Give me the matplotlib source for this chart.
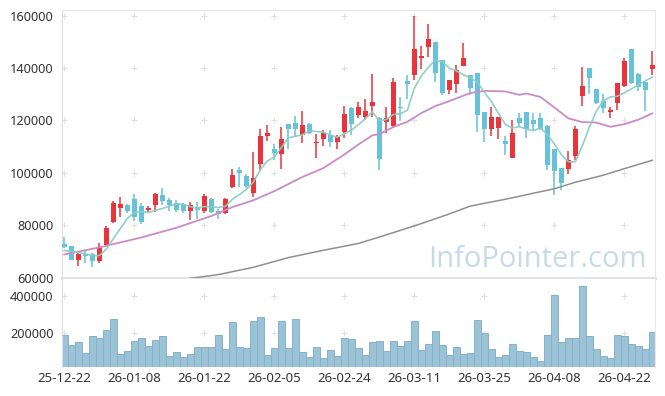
import numpy as np
import matplotlib
matplotlib.use('Agg')
import matplotlib.pyplot as plt

# daily candles (red = up, blue = down)
opens = [72640, 71870, 66630, 68900, 69080, 66250, 72260, 81070, 86690, 87580,
         90140, 87190, 85660, 87840, 91410, 89750, 88610, 87960, 85390, 86820,
         85390, 90140, 85400, 84630, 94580, 100980, 98680, 92290, 103550, 114130,
         108910, 107230, 118600, 118860, 114390, 118600, 111300, 112800, 114260, 111820,
         115530, 124870, 122050, 121170, 125500, 120770, 119500, 117700, 125100, 135100,
         137370, 144000, 147970, 150140, 143100, 131630, 133900, 140930, 137250, 138000,
         123300, 116570, 117180, 112100, 105840, 120770, 123100, 120000, 120770, 117820,
         109050, 102000, 101370, 106350, 129440, 140170, 131890, 127400, 123080, 126530,
         133030, 147330, 137630, 134540, 139660]
highs = [75430, 72000, 69690, 70000, 69300, 73140, 79680, 89280, 90760, 88200,
         92060, 88400, 87200, 92440, 94360, 90500, 89500, 88400, 88900, 88900,
         91800, 90500, 86000, 90200, 101640, 102290, 99700, 107990, 116570, 118100,
         111000, 117560, 118600, 121780, 123810, 119000, 114770, 116300, 116300, 114400,
         125470, 125250, 127140, 128290, 137750, 121400, 125000, 136100, 128800, 137400,
         160000, 148470, 156930, 150140, 143100, 135460, 141200, 149500, 137250, 138000,
         123300, 125000, 121400, 114000, 120130, 122950, 123100, 122700, 122700, 118200,
         109050, 102000, 108270, 117820, 140300, 140170, 131890, 129970, 125250, 134420,
         143900, 147330, 138000, 134540, 146700]
lows = [71100, 66600, 64480, 65600, 63940, 65480, 72000, 80870, 83100, 84500,
        81570, 80600, 84500, 84900, 87580, 85600, 85000, 84600, 81830, 82470,
        84500, 84500, 82500, 84300, 94360, 94580, 94360, 90760, 100710, 112290,
        105000, 101640, 108910, 113740, 111440, 114900, 105840, 110200, 109800, 108910,
        113230, 114390, 120800, 120130, 121400, 101250, 115300, 117000, 119900, 128100,
        135460, 139660, 144400, 134810, 129700, 130030, 130360, 140930, 129700, 115700,
        111820, 114000, 113100, 106730, 105840, 117560, 113360, 116300, 116300, 101000,
        91400, 93300, 99720, 105070, 125630, 129970, 126400, 122700, 120770, 124000,
        132800, 133800, 131380, 123600, 137370]
closes = [71600, 66630, 68810, 68400, 66250, 71760, 79040, 88610, 87960, 85390,
          83100, 81180, 86690, 91790, 89110, 87580, 85660, 85390, 87580, 85790,
          91020, 85020, 84300, 89870, 99070, 99950, 94970, 98190, 114000, 115400,
          107610, 113110, 116800, 116830, 118230, 115400, 111700, 115150, 111820, 113740,
          122300, 118600, 125000, 123680, 126900, 105200, 121000, 134700, 124800, 133800,
          147330, 144600, 151160, 138260, 130570, 135390, 139300, 143770, 132500, 122050,
          116570, 121400, 121400, 111200, 115040, 119100, 116570, 118600, 116570, 102900,
          100710, 96120, 104820, 116570, 133150, 136330, 126760, 124850, 123960, 134420,
          142730, 134200, 132880, 131630, 141200]
volumes = [191000, 137800, 153700, 95200, 184000, 175000, 217500, 276000, 89900, 105800,
           159000, 175000, 132400, 164400, 184000, 79300, 100500, 73900, 89900, 127100,
           127100, 127100, 191000, 116500, 260000, 127100, 121800, 265400, 286700, 84600,
           121800, 265400, 121800, 276000, 100500, 73900, 127100, 68600, 111200, 79300,
           175000, 169700, 121800, 84600, 153700, 159000, 105800, 159000, 132400, 159000,
           265400, 111200, 143100, 212200, 137800, 84600, 127100, 89900, 95200, 270700,
           201600, 116500, 73900, 84600, 143100, 105800, 100500, 73900, 52700, 191000,
           403700, 153700, 175000, 175000, 451600, 185600, 116500, 79300, 68600, 191000,
           185600, 143100, 132400, 116500, 206900]

# moving averages (the long ones start before the window)
ma5_head = [70300, 70000, 69600, 69000]
ma20_idx = [0, 5, 11, 16, 21, 24, 27, 30, 34, 37, 40, 42, 44, 45, 47, 49, 51, 53, 55,
            58, 60, 63, 65, 66, 68, 70, 72, 74, 76, 78, 80, 82, 84]
ma20_val = [68800, 71500, 75300, 79000, 83500, 86900, 89500, 93000, 98400, 101800,
            107000, 110800, 114300, 114800, 117500, 119500, 122800, 125500, 127400,
            130500, 131300, 131100, 129800, 130300, 129000, 125000, 120800, 119400,
            119200, 117600, 118600, 120300, 122700]
ma60_idx = [18, 22, 27, 32, 37, 42, 46, 51, 55, 58, 63, 67, 70, 73, 77, 80, 84]
ma60_val = [59700, 61100, 63900, 67600, 70400, 73000, 76300, 80600, 84300, 87300,
            89900, 92200, 93900, 96400, 99100, 101600, 104800]

date_pos = [0, 10, 20, 30, 40, 50, 60, 70, 80]
date_labels = ['25-12-22', '26-01-08', '26-01-22', '26-02-05', '26-02-24',
               '26-03-11', '26-03-25', '26-04-08', '26-04-22']
price_ticks = [60000, 80000, 100000, 120000, 140000, 160000]
vol_ticks = [200000, 400000]

o = np.array(opens); h = np.array(highs); l = np.array(lows); c = np.array(closes)
x = np.arange(len(c))
ma5 = np.concatenate([ma5_head, np.convolve(c, np.ones(5) / 5, 'valid')])

RED = '#ea343b'
BLUE = '#66c1da'
cols = np.where(c >= o, RED, BLUE)

plt.rcParams['font.family'] = ['Noto Sans', 'DejaVu Sans']
fig = plt.figure(figsize=(6.65, 3.96), dpi=100)
ax = fig.add_axes([0.0928, 0.2992, 0.8929, 0.6755])
axv = fig.add_axes([0.0928, 0.074, 0.8929, 0.2215], sharex=ax)

# grid as small crosses
gx, gy = np.meshgrid(date_pos, price_ticks[1:])
ax.scatter(gx.ravel(), gy.ravel(), marker='+', s=16, c='#e0e0e0', linewidths=0.8, zorder=1)
gx, gy = np.meshgrid(date_pos, vol_ticks)
axv.scatter(gx.ravel(), gy.ravel(), marker='+', s=16, c='#e0e0e0', linewidths=0.8, zorder=1)

ax.vlines(x, l, h, colors=cols, linewidth=1.1, zorder=2)
ax.bar(x, np.maximum(np.abs(c - o), 450), bottom=np.minimum(o, c), width=0.72,
       color=cols, linewidth=0, zorder=3)

ax.plot(ma60_idx, ma60_val, color='#8f8f8f', lw=1.1, zorder=4)
ax.plot(ma20_idx, ma20_val, color='#c98cc3', lw=1.3, zorder=4)
ax.plot(x, ma5, color='#8ccdc3', lw=1.2, alpha=0.95, zorder=5)

ax.set_xlim(-0.37, 84.45)
ax.set_ylim(60000, 162200)
ax.set_yticks(price_ticks)
ax.set_yticklabels([str(t) for t in price_ticks])
ax.tick_params(axis='y', length=0, pad=6, labelsize=9.2, labelcolor='#333333')
ax.tick_params(axis='x', length=0, labelbottom=False)
for s in ['top', 'right']:
    ax.spines[s].set_color('#e8e8e8')
ax.spines['left'].set_color('#dedede')
ax.spines['bottom'].set_color('#e2e2e2')
ax.spines['bottom'].set_linewidth(2.2)

axv.bar(x, volumes, width=1.0, color='#9cc2d6', edgecolor='#82b2cd', linewidth=0.7, zorder=2)
axv.set_ylim(22000, 489000)
axv.set_yticks(vol_ticks)
axv.set_yticklabels([str(t) for t in vol_ticks])
axv.set_xticks(date_pos)
axv.set_xticklabels(date_labels)
axv.tick_params(axis='y', length=0, pad=6, labelsize=9.2, labelcolor='#333333')
axv.tick_params(axis='x', length=0, pad=4, labelsize=9.5, labelcolor='#333333')
axv.spines['top'].set_visible(False)
axv.spines['bottom'].set_visible(False)
axv.spines['left'].set_color('#dedede')
axv.spines['right'].set_color('#e8e8e8')

fig.text(647 / 665, 1 - 267 / 396, 'InfoPointer.com', family='Open Sans', fontsize=21,
         color='#c6dae7', ha='right', va='baseline', zorder=0)

fig.savefig('out.png', dpi=100)
